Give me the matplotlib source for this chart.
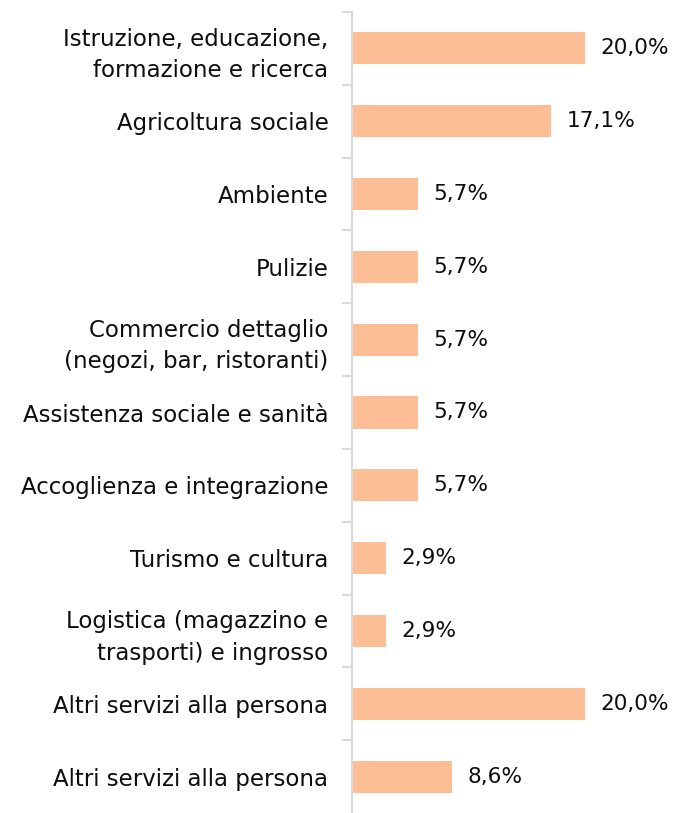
import numpy as np
import matplotlib.pyplot as plt

# sectors, read top to bottom
categories = [
    'Istruzione, educazione,\nformazione e ricerca',
    'Agricoltura sociale',
    'Ambiente',
    'Pulizie',
    'Commercio dettaglio\n(negozi, bar, ristoranti)',
    'Assistenza sociale e sanità',
    'Accoglienza e integrazione',
    'Turismo e cultura',
    'Logistica (magazzino e\ntrasporti) e ingrosso',
    'Altri servizi alla persona',
    'Altri servizi alla persona',
]
values = [20.0, 17.1, 5.7, 5.7, 5.7, 5.7, 5.7, 2.9, 2.9, 20.0, 8.6]
value_labels = ['20,0%', '17,1%', '5,7%', '5,7%', '5,7%', '5,7%', '5,7%',
                '2,9%', '2,9%', '20,0%', '8,6%']

bar_color = '#FDBE96'
grey = '#D9D9D9'
txt = '#0d0d0d'

fig = plt.figure(figsize=(6.83, 8.13), dpi=100, facecolor='white')
ax = fig.add_axes([352 / 683, 0.0, 1 - 352 / 683, 801 / 813])

pos = np.arange(len(categories))
ax.barh(pos, values, height=0.44, color=bar_color)

for p, v, lab in zip(pos, values, value_labels):
    ax.text(v + 1.3, p, lab, va='center', ha='left', fontsize=15.6, color=txt)

ax.set_xlim(0, 28.4)
ax.set_ylim(len(categories) - 0.5, -0.5)

ax.set_yticks(pos)
ax.set_yticklabels(categories, fontsize=16.5, color=txt, linespacing=1.45)
ax.tick_params(axis='y', which='major', length=0, pad=17)
ax.set_yticks(np.arange(-0.5, len(categories) - 0.5, 1), minor=True)
ax.tick_params(axis='y', which='minor', length=7, width=1.5, color=grey)

ax.set_xticks([])
for side in ['top', 'right', 'bottom']:
    ax.spines[side].set_visible(False)
ax.spines['left'].set_color(grey)
ax.spines['left'].set_linewidth(1.5)

fig.savefig('out.png', dpi=100, facecolor='white')
